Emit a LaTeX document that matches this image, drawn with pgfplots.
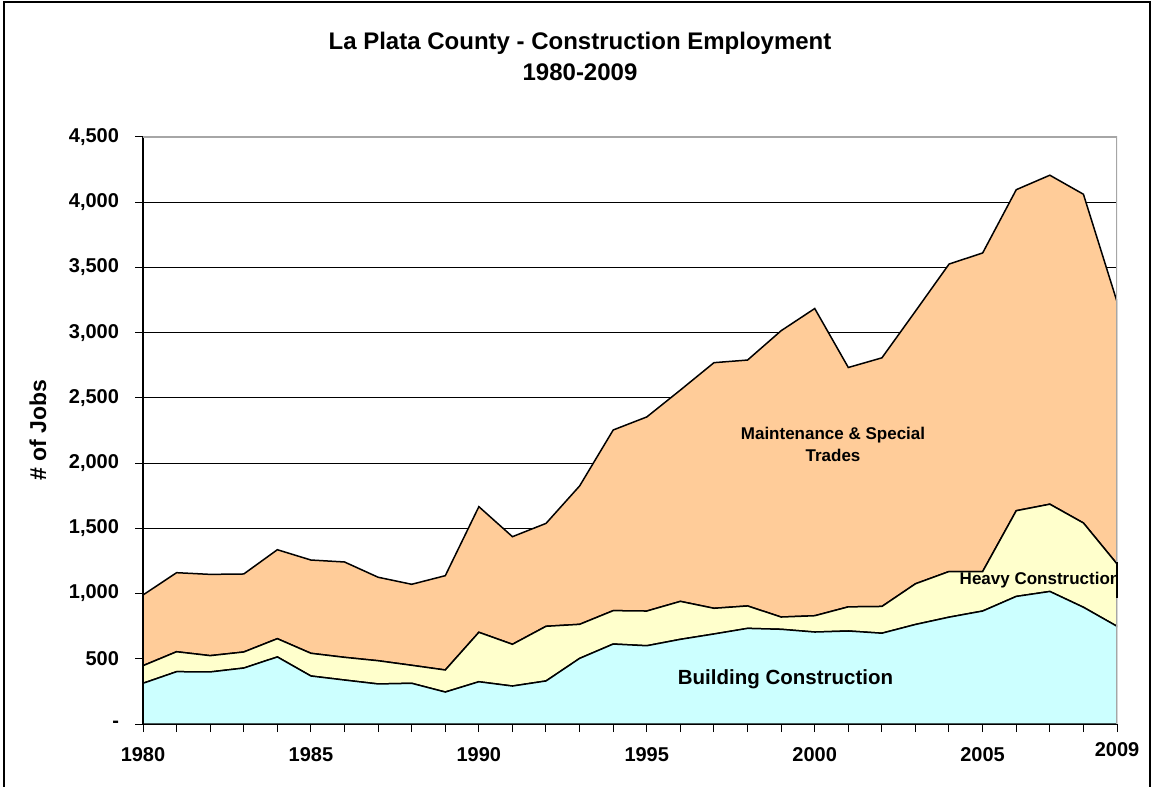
\documentclass[border=0pt]{standalone}
\usepackage{fontspec}
\setmainfont{Liberation Sans}
\usepackage{pgfplots}
\usepackage{pgfplotstable}
\pgfplotsset{compat=1.18}
\definecolor{maint}{HTML}{FFCC99}
\definecolor{heavy}{HTML}{FFFFCC}
\definecolor{build}{HTML}{CCFFFF}
\pgfplotstableread{
year build heavy maint
1980 312 135 542
1981 401 153 606
1982 399 125 623
1983 429 123 598
1984 514 140 682
1985 368 174 715
1986 337 174 731
1987 307 178 640
1988 312 138 621
1989 245 169 723
1990 324 379 963
1991 291 320 825
1992 330 419 789
1993 503 261 1061
1994 613 256 1385
1995 600 266 1488
1996 649 291 1620
1997 690 197 1883
1998 733 172 1885
1999 726 94 2195
2000 705 125 2355
2001 713 185 1835
2002 696 205 1906
2003 763 312 2090
2004 819 350 2357
2005 866 303 2442
2006 978 657 2461
2007 1016 669 2522
2008 895 646 2520
2009 749 478 2011
}\datatable
\begin{document}
\begin{tikzpicture}
\useasboundingbox (0pt,0pt) rectangle (577pt,393pt);
\draw[black, line width=0.75pt] (2pt,392pt) rectangle (575pt,-10pt);
\node[font=\bfseries\fontsize{12}{14}\selectfont] at (290pt,371.5pt) {La Plata County - Construction Employment};
\node[font=\bfseries\fontsize{12}{14}\selectfont] at (290pt,357pt) {1980-2009};
\node[rotate=90, font=\bfseries\fontsize{11.5}{13}\selectfont] at (19pt,178pt) {\# of Jobs};
\begin{axis}[
  at={(71.5pt,31pt)}, anchor=south west,
  scale only axis, width=487pt, height=293.5pt,
  xmin=1980, xmax=2009, ymin=0, ymax=4500,
  axis lines*=left,
  axis line style={black, line width=0.75pt, -},
  ytick={0,500,...,4500},
  yticklabels={-,500,{1,000},{1,500},{2,000},{2,500},{3,000},{3,500},{4,000},{4,500}},
  xtick={1980,...,2008},
  xticklabels={1980,,,,,1985,,,,,1990,,,,,1995,,,,,2000,,,,,2005,,,},
  extra x ticks={2009},
  extra x tick labels={2009},
  extra x tick style={xticklabel style={yshift=2.5pt}},
  ymajorgrids,
  major grid style={black, line width=0.5pt},
  tick align=outside,
  major tick length=4pt,
  tick style={black, line width=0.5pt},
  ticklabel style={font=\bfseries\fontsize{10}{12}\selectfont},
  yticklabel style={xshift=-4.5pt},
  xticklabel style={yshift=-4.2pt},
  stack plots=y,
]
\draw[gray!70, line width=0.75pt] (rel axis cs:0,1) -- (rel axis cs:1,1) -- (rel axis cs:1,0);
\addplot[fill=build, draw=black, line width=0.75pt] table[x=year, y=build]{\datatable} \closedcycle;
\addplot[fill=heavy, draw=black, line width=0.75pt] table[x=year, y=heavy]{\datatable} \closedcycle;
\addplot[fill=maint, draw=black, line width=0.75pt] table[x=year, y=maint]{\datatable} \closedcycle;
\end{axis}
\node[font=\bfseries\fontsize{8.5}{11}\selectfont, align=center] at (416.5pt,171pt) {Maintenance \& Special\\Trades};
\begin{scope}
\clip (71.5pt,31pt) rectangle (558.5pt,324.5pt);
\node[font=\bfseries\fontsize{8.5}{10}\selectfont] at (520pt,103pt) {Heavy Construction};
\end{scope}
\draw[black, line width=0.75pt] (558.5pt,94pt) -- (558.5pt,112pt);
\node[font=\bfseries\fontsize{10.25}{12}\selectfont] at (392.75pt,53.5pt) {Building Construction};
\end{tikzpicture}
\end{document}
